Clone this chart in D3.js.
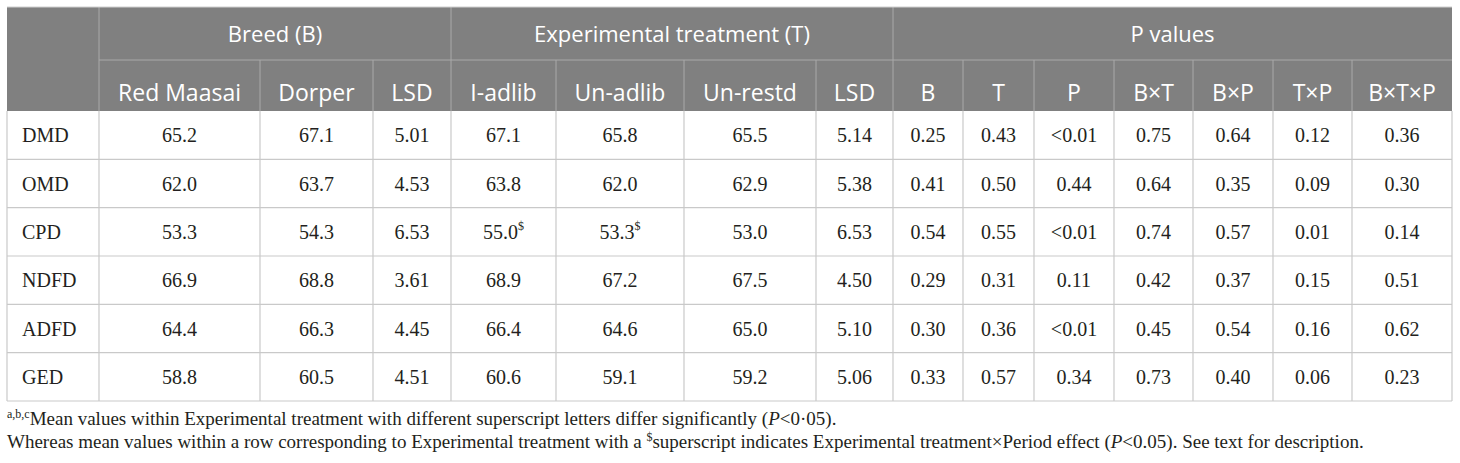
<!DOCTYPE html>
<html>
<head>
<meta charset="utf-8">
<script src="https://cdn.jsdelivr.net/npm/d3@7.9.0/dist/d3.min.js"></script>
<style>
  body { margin: 0; background: #fff; }
  svg { display: block; }
</style>
</head>
<body>
<div id="chart"></div>
<script>
// table values
const rowLabels = ['DMD', 'OMD', 'CPD', 'NDFD', 'ADFD', 'GED'];
const redMaasai = ['65.2', '62.0', '53.3', '66.9', '64.4', '58.8'];
const dorper = ['67.1', '63.7', '54.3', '68.8', '66.3', '60.5'];
const lsdBreed = ['5.01', '4.53', '6.53', '3.61', '4.45', '4.51'];
const iAdlib = ['67.1', '63.8', '55.0$', '68.9', '66.4', '60.6'];
const unAdlib = ['65.8', '62.0', '53.3$', '67.2', '64.6', '59.1'];
const unRestd = ['65.5', '62.9', '53.0', '67.5', '65.0', '59.2'];
const lsdTreat = ['5.14', '5.38', '6.53', '4.50', '5.10', '5.06'];
const pB = ['0.25', '0.41', '0.54', '0.29', '0.30', '0.33'];
const pT = ['0.43', '0.50', '0.55', '0.31', '0.36', '0.57'];
const pP = ['<0.01', '0.44', '<0.01', '0.11', '<0.01', '0.34'];
const pBT = ['0.75', '0.64', '0.74', '0.42', '0.45', '0.73'];
const pBP = ['0.64', '0.35', '0.57', '0.37', '0.54', '0.40'];
const pTP = ['0.12', '0.09', '0.01', '0.15', '0.16', '0.06'];
const pBTP = ['0.36', '0.30', '0.14', '0.51', '0.62', '0.23'];

const groupLabels = ['Breed (B)', 'Experimental treatment (T)', 'P values'];
const colLabels = ['Red Maasai', 'Dorper', 'LSD', 'I-adlib', 'Un-adlib', 'Un-restd', 'LSD',
                   'B', 'T', 'P', 'B×T', 'B×P', 'T×P', 'B×T×P'];

const columns = [redMaasai, dorper, lsdBreed, iAdlib, unAdlib, unRestd, lsdTreat,
                 pB, pT, pP, pBT, pBP, pTP, pBTP];

// layout
const width = 1460;
const height = 463;
const colWidths = [92, 161, 113, 78, 105, 128, 132, 77, 70, 71, 80, 79, 80, 79, 100];
const edges = [7, ...d3.cumsum(colWidths).map(d => d + 7)];
const headTop = 7, headMid = 60, headBottom = 111, tableBottom = 401;

const headerFill = '#808080';
const headerLine = '#a9a9a9';
const gridLine = '#c9c9c9';
const textColor = '#231f20';
const serif = '"Liberation Serif", "Times New Roman", serif';
const sans = '"Open Sans", "Noto Sans", sans-serif';

const y = d3.scaleBand().domain(rowLabels).range([headBottom, tableBottom]);
const x = d3.scaleOrdinal().domain(d3.range(edges.length)).range(edges);

const svg = d3.select('#chart').append('svg')
    .attr('width', width)
    .attr('height', height);

// header background
svg.append('rect')
    .attr('x', x(0)).attr('y', headTop)
    .attr('width', x(15) - x(0)).attr('height', headBottom - headTop)
    .attr('fill', headerFill);

// header lines
const hl = svg.append('g').attr('stroke', headerLine).attr('stroke-width', 1);
hl.append('line')
    .attr('x1', x(1)).attr('x2', x(15))
    .attr('y1', headMid).attr('y2', headMid);
const groupEdges = [1, 4, 8, 15];
groupEdges.slice(0, -1).forEach(i => {
    hl.append('line').attr('x1', x(i)).attr('x2', x(i))
        .attr('y1', headTop).attr('y2', headBottom);
});
d3.range(2, 15).filter(i => !groupEdges.includes(i)).forEach(i => {
    hl.append('line').attr('x1', x(i)).attr('x2', x(i))
        .attr('y1', headMid).attr('y2', headBottom);
});

// header texts
svg.append('g').selectAll('text')
    .data(groupLabels)
    .join('text')
    .attr('x', (d, i) => (x(groupEdges[i]) + x(groupEdges[i + 1])) / 2)
    .attr('y', 42)
    .attr('text-anchor', 'middle')
    .attr('font-family', sans)
    .attr('font-size', 22)
    .attr('fill', '#fff')
    .text(d => d);

svg.append('g').selectAll('text')
    .data(colLabels)
    .join('text')
    .attr('x', (d, i) => (x(i + 1) + x(i + 2)) / 2)
    .attr('y', 101)
    .attr('text-anchor', 'middle')
    .attr('font-family', sans)
    .attr('font-size', 23)
    .attr('fill', '#fff')
    .text(d => d);

// body grid
const gl = svg.append('g').attr('stroke', gridLine).attr('stroke-width', 1.2);
rowLabels.forEach(r => {
    gl.append('line').attr('x1', x(0)).attr('x2', x(15))
        .attr('y1', y(r) + y.bandwidth()).attr('y2', y(r) + y.bandwidth());
});
d3.range(0, 16).forEach(i => {
    gl.append('line').attr('x1', x(i)).attr('x2', x(i))
        .attr('y1', headBottom).attr('y2', tableBottom);
});
gl.append('line').attr('x1', x(0)).attr('x2', x(15))
    .attr('y1', headTop).attr('y2', headTop).attr('stroke', '#d0d0d0');

// row labels
svg.append('g').selectAll('text')
    .data(rowLabels)
    .join('text')
    .attr('x', x(0) + 15)
    .attr('y', d => y(d) + y.bandwidth() / 2 + 7)
    .attr('font-family', serif)
    .attr('font-size', 20)
    .attr('fill', textColor)
    .text(d => d);

// cells
columns.forEach((col, ci) => {
    const cx = (x(ci + 1) + x(ci + 2)) / 2;
    const t = svg.append('g').selectAll('text')
        .data(col)
        .join('text')
        .attr('x', cx)
        .attr('y', (d, i) => y(rowLabels[i]) + y.bandwidth() / 2 + 7)
        .attr('text-anchor', 'middle')
        .attr('font-family', serif)
        .attr('font-size', 20)
        .attr('fill', textColor);
    t.append('tspan').text(d => d.replace('$', ''));
    t.filter(d => d.includes('$')).append('tspan')
        .attr('font-size', 12)
        .attr('dy', -9)
        .text('$');
});

// footnotes
const fs = 19;
const f1 = svg.append('text')
    .attr('x', 7).attr('y', 425)
    .attr('font-family', serif).attr('font-size', fs).attr('fill', textColor);
f1.append('tspan').attr('font-size', 12).attr('dy', -7).text('a,b,c');
f1.append('tspan').attr('dy', 7).text('Mean values within Experimental treatment with different superscript letters differ significantly (');
f1.append('tspan').attr('font-style', 'italic').text('P');
f1.append('tspan').text('<0·05).');

const f2 = svg.append('text')
    .attr('x', 7).attr('y', 448)
    .attr('font-family', serif).attr('font-size', fs).attr('fill', textColor);
f2.append('tspan').text('Whereas mean values within a row corresponding to Experimental treatment with a ');
f2.append('tspan').attr('font-size', 12).attr('dy', -7).text('$');
f2.append('tspan').attr('dy', 7).text('superscript indicates Experimental treatment×Period effect (');
f2.append('tspan').attr('font-style', 'italic').text('P');
f2.append('tspan').text('<0.05). See text for description.');
</script>
</body>
</html>
